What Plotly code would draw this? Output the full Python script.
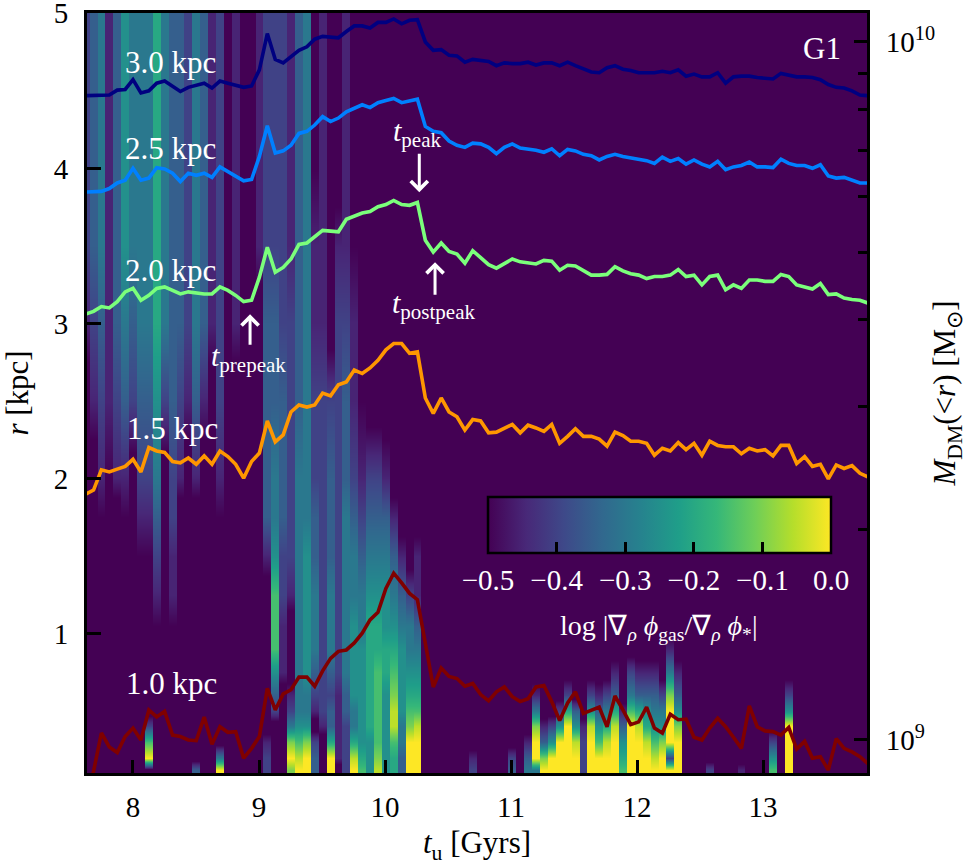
import numpy as np
import plotly.graph_objects as go

# Snapshot times [Gyr]
t_snap = [
    7.624, 7.687, 7.749, 7.812, 7.875, 7.938, 8.000, 8.063, 8.126, 8.188,
    8.251, 8.314, 8.376, 8.439, 8.502, 8.565, 8.627, 8.690, 8.753, 8.815,
    8.878, 8.941, 9.003, 9.066, 9.129, 9.192, 9.254, 9.317, 9.380, 9.442,
    9.505, 9.568, 9.630, 9.693, 9.756, 9.819, 9.881, 9.944, 10.007, 10.069,
    10.132, 10.195, 10.257, 10.320, 10.383, 10.446, 10.508, 10.571, 10.634, 10.696,
    10.759, 10.822, 10.884, 10.947, 11.010, 11.073, 11.135, 11.198, 11.261, 11.323,
    11.386, 11.449, 11.511, 11.574, 11.637, 11.700, 11.762, 11.825, 11.888, 11.950,
    12.013, 12.076, 12.138, 12.201, 12.264, 12.327, 12.389, 12.452, 12.515, 12.577,
    12.640, 12.703, 12.765, 12.828, 12.891, 12.954, 13.016, 13.079, 13.142, 13.204,
    13.267, 13.330, 13.392, 13.455, 13.518, 13.581, 13.643, 13.706, 13.769, 13.832,
]

# log10 of enclosed dark-matter mass M_DM(<r) [Msun] at each snapshot
logm_3p0 = [
    9.923, 9.923, 9.923, 9.924, 9.931, 9.932, 9.946, 9.927, 9.930, 9.941,
    9.944, 9.937, 9.929, 9.935, 9.938, 9.941, 9.934, 9.944, 9.941, 9.938,
    9.935, 9.937, 9.960, 10.012, 9.975, 9.970, 9.979, 9.988, 9.993, 10.004,
    10.008, 10.007, 10.006, 10.015, 10.023, 10.023, 10.020, 10.028, 10.028, 10.033,
    10.026, 10.031, 10.032, 10.000, 9.988, 9.989, 9.981, 9.980, 9.971, 9.975,
    9.973, 9.972, 9.966, 9.970, 9.969, 9.969, 9.971, 9.967, 9.970, 9.970,
    9.966, 9.971, 9.966, 9.961, 9.957, 9.956, 9.963, 9.966, 9.961, 9.959,
    9.956, 9.956, 9.956, 9.958, 9.956, 9.960, 9.951, 9.954, 9.950, 9.950,
    9.956, 9.941, 9.950, 9.951, 9.951, 9.949, 9.948, 9.947, 9.955, 9.953,
    9.950, 9.950, 9.949, 9.946, 9.939, 9.935, 9.934, 9.930, 9.924, 9.923,
]
logm_2p5 = [
    9.785, 9.785, 9.786, 9.790, 9.798, 9.802, 9.819, 9.802, 9.805, 9.820,
    9.818, 9.812, 9.800, 9.812, 9.809, 9.812, 9.806, 9.821, 9.814, 9.807,
    9.801, 9.803, 9.836, 9.880, 9.841, 9.844, 9.852, 9.869, 9.872, 9.881,
    9.893, 9.886, 9.891, 9.900, 9.905, 9.910, 9.906, 9.913, 9.916, 9.919,
    9.913, 9.916, 9.918, 9.879, 9.872, 9.870, 9.858, 9.852, 9.849, 9.855,
    9.854, 9.849, 9.840, 9.849, 9.854, 9.848, 9.847, 9.845, 9.842, 9.847,
    9.837, 9.846, 9.844, 9.839, 9.837, 9.831, 9.836, 9.839, 9.836, 9.834,
    9.832, 9.830, 9.826, 9.835, 9.829, 9.833, 9.825, 9.831, 9.825, 9.821,
    9.829, 9.817, 9.821, 9.823, 9.828, 9.821, 9.821, 9.820, 9.832, 9.826,
    9.823, 9.823, 9.819, 9.824, 9.808, 9.805, 9.806, 9.802, 9.798, 9.798,
]
logm_2p0 = [
    9.610, 9.614, 9.621, 9.619, 9.628, 9.642, 9.647, 9.630, 9.637, 9.647,
    9.649, 9.644, 9.639, 9.642, 9.640, 9.639, 9.639, 9.649, 9.644, 9.637,
    9.628, 9.630, 9.663, 9.706, 9.670, 9.677, 9.689, 9.710, 9.712, 9.721,
    9.730, 9.729, 9.728, 9.746, 9.751, 9.755, 9.757, 9.764, 9.767, 9.773,
    9.767, 9.766, 9.770, 9.716, 9.699, 9.712, 9.700, 9.696, 9.683, 9.701,
    9.691, 9.681, 9.676, 9.683, 9.689, 9.685, 9.684, 9.682, 9.687, 9.686,
    9.673, 9.680, 9.679, 9.673, 9.666, 9.666, 9.667, 9.678, 9.672, 9.668,
    9.666, 9.661, 9.664, 9.664, 9.666, 9.674, 9.664, 9.666, 9.652, 9.664,
    9.666, 9.645, 9.652, 9.647, 9.659, 9.659, 9.657, 9.657, 9.667, 9.664,
    9.652, 9.649, 9.646, 9.654, 9.638, 9.639, 9.633, 9.631, 9.630, 9.626,
]
logm_1p5 = [
    9.352, 9.358, 9.387, 9.384, 9.388, 9.392, 9.402, 9.384, 9.419, 9.414,
    9.412, 9.399, 9.397, 9.404, 9.395, 9.407, 9.395, 9.414, 9.406, 9.395,
    9.375, 9.399, 9.411, 9.457, 9.427, 9.437, 9.470, 9.480, 9.477, 9.480,
    9.497, 9.493, 9.509, 9.513, 9.530, 9.525, 9.533, 9.544, 9.559, 9.568,
    9.568, 9.554, 9.556, 9.490, 9.468, 9.490, 9.470, 9.463, 9.444, 9.459,
    9.457, 9.440, 9.441, 9.447, 9.452, 9.440, 9.451, 9.447, 9.442, 9.452,
    9.425, 9.435, 9.446, 9.435, 9.435, 9.431, 9.421, 9.441, 9.436, 9.428,
    9.428, 9.425, 9.408, 9.418, 9.414, 9.426, 9.416, 9.425, 9.408, 9.428,
    9.422, 9.420, 9.420, 9.410, 9.418, 9.414, 9.416, 9.407, 9.422, 9.422,
    9.396, 9.406, 9.392, 9.395, 9.374, 9.394, 9.389, 9.393, 9.382, 9.377,
]
logm_1p0 = [
    8.914, 8.955, 9.010, 8.990, 8.982, 9.005, 9.017, 9.000, 9.043, 9.033,
    9.041, 9.007, 9.005, 9.000, 8.999, 9.033, 8.994, 9.019, 9.011, 9.012,
    8.974, 8.988, 9.005, 9.074, 9.043, 9.066, 9.072, 9.090, 9.090, 9.077,
    9.099, 9.117, 9.127, 9.129, 9.139, 9.153, 9.172, 9.183, 9.217, 9.239,
    9.225, 9.210, 9.201, 9.139, 9.076, 9.103, 9.091, 9.088, 9.077, 9.081,
    9.065, 9.056, 9.069, 9.076, 9.062, 9.055, 9.059, 9.076, 9.078, 9.055,
    9.028, 9.053, 9.069, 9.038, 9.043, 9.047, 9.019, 9.063, 9.043, 9.022,
    9.026, 9.047, 9.017, 9.010, 9.037, 9.029, 9.030, 9.004, 9.000, 9.017,
    9.031, 9.019, 9.004, 8.988, 9.049, 9.019, 9.013, 9.012, 9.007, 9.018,
    8.987, 8.998, 8.974, 8.976, 8.957, 9.002, 8.988, 8.983, 8.976, 8.966,
]

shell_labels = ["3.0 kpc", "2.5 kpc", "2.0 kpc", "1.5 kpc", "1.0 kpc"]
shell_colors = ["#000080", "#0080ff", "#7bff7b", "#ff9700", "#800000"]

# Radial sample rows [kpc] of the gradient-ratio map
r_rows = [0.12, 0.2, 0.3, 0.4, 0.5, 0.6, 0.75, 0.9, 1.05, 1.25,
          1.5, 1.75, 2.0, 2.5, 3.0, 3.5, 4.0, 4.5, 5.0]

# log|grad phi_gas / grad phi_*| per snapshot, one string per snapshot,
# rows from r = 0.12 (left) to r = 5.0 (right); '|' separates r <= 2 from r >= 2.5.
# '.' below -0.5, digit d -> -0.5 + 0.05 d, 'Y' -> 0.0
ratio_cols = [
    ".............|.12222", ".............|123333", "...........01|234444",
    "............0|111111", "............1|233333", "...........01|345555",
    ".............|234444", "..........012|344444", ".Y72......012|344444",
    "........01234|566666", ".............|244444", ".......001122|333333",
    "............1|233333", ".............|122222", "3...........1|344444",
    ".............|133333", ".............|.11111", "Y4.........01|222222",
    ".............|..0000", ".............|.11111", ".............|......",
    ".............|......", ".............|..1111", "221.......133|332222",
    "....235777544|332222", "......1112233|322222", "8Y8421...1222|221111",
    "Y975444444444|333333", "YY85445555544|444444", "332.123444332|211000",
    "...1222222222|211111", "YY63323444333|2.....", ".111112222222|221...",
    "2222334444443|321111", "Y964455554432|110...", "7655555544321|0.....",
    "5556666665432|......", "9877777665432|......", "5555556655431|......",
    "667998765431.|......", "33445555431..|......", "YYY8765442...|......",
    "YYY97654311..|......", ".............|......", ".............|......",
    ".............|......", ".............|......", ".............|......",
    ".............|......", "21...........|......", ".............|......",
    ".............|......", ".............|......", ".............|......",
    "32...........|......", ".............|......", "431..........|......",
    "4YY841.......|......", "Y831.........|......", "YY52.........|......",
    "YYY52........|......", "YYYY62.......|......", "YY953........|......",
    "2221.........|......", "YYY952.......|......", "YY7531.......|......",
    "YY9642.......|......", "YYY9631......|......", "76531........|......",
    "YYYY742......|......", "YYY9631......|......", "YY96531......|......",
    "Y975431......|......", "YY8542.......|......", "Y2YYY841.....|......",
    "YYY8531......|......", ".............|......", ".............|......",
    ".............|......", "2............|......", ".............|......",
    ".............|......", ".............|......", "1............|......",
    ".............|......", ".............|......", ".............|......",
    "752..........|......", ".............|......", "YYYY52.......|......",
    ".............|......", ".............|......", ".............|......",
    ".............|......", ".............|......", ".............|......",
    ".............|......", ".............|......", ".............|......",
    ".............|......",
]


def level(ch):
    if ch == ".":
        return -0.55
    if ch == "Y":
        return 0.0
    return -0.5 + 0.05 * int(ch)


cols = [s.replace("|", "") for s in ratio_cols]
assert len(cols) == len(t_snap)
assert all(len(c) == len(r_rows) for c in cols)
z_cols = np.array([[level(ch) for ch in c] for c in cols])

# Each snapshot fills a flat band in time: place its profile at both band edges
half = 0.0305
x_edges = []
for t in t_snap:
    x_edges += [t - half, t + half]
z_map = np.repeat(z_cols, 2, axis=0).T

FONT = "Liberation Serif"
CBAR_TITLE = ("log |∇<sub><i>ρ</i></sub> <i>ϕ</i><sub>gas</sub>/"
              "∇<sub><i>ρ</i></sub> <i>ϕ</i><sub>*</sub>|")

fig = go.Figure()
fig.add_trace(go.Heatmap(
    x=x_edges, y=r_rows, z=z_map, zsmooth="best",
    colorscale="Viridis", zmin=-0.5, zmax=0.0, hoverinfo="skip",
    colorbar=dict(
        orientation="h", x=0.734, xanchor="center", y=0.3632, yanchor="top",
        len=0.44, lenmode="fraction", thickness=56, thicknessmode="pixels",
        outlinewidth=2.5, outlinecolor="black", bgcolor="rgba(0,0,0,0)",
        xpad=0, ypad=0,
        tickvals=[-0.5, -0.4, -0.3, -0.2, -0.1, 0.0], tickformat=".1f",
        ticks="inside", ticklen=12, tickwidth=2.5, tickcolor="black",
        tickfont=dict(family=FONT, size=29, color="white"),
    ),
))

for vals, color in zip([logm_3p0, logm_2p5, logm_2p0, logm_1p5, logm_1p0], shell_colors):
    fig.add_trace(go.Scatter(
        x=t_snap, y=10 ** np.array(vals), mode="lines", yaxis="y2",
        line=dict(color=color, width=3.6), showlegend=False, hoverinfo="skip"))

annotations = []
label_pos = [(8.298, 4.684), (8.298, 4.130), (8.298, 3.343), (8.310, 2.324), (8.305, 0.680)]
for text, (tx, ry) in zip(shell_labels, label_pos):
    annotations.append(dict(x=tx, y=ry, xref="x", yref="y", text=text, showarrow=False,
                            font=dict(family=FONT, size=31, color="white")))
annotations.append(dict(x=13.465, y=4.774, xref="x", yref="y", text="G1", showarrow=False,
                        font=dict(family=FONT, size=31, color="white")))

# Colour-bar label, set below the tick labels
annotations.append(dict(x=0.733, y=0.192, xref="paper", yref="paper", text=CBAR_TITLE,
                        xanchor="center", yanchor="middle", showarrow=False,
                        font=dict(family=FONT, size=28, color="white")))

# Event markers: arrows and their labels
arrow_style = dict(xref="x", yref="y", text="", showarrow=True, arrowhead=4,
                   arrowsize=1.1, arrowwidth=3, arrowcolor="white", ax=0)
annotations.append(dict(x=10.272, y=3.846, ay=-40, **arrow_style))
annotations.append(dict(x=10.397, y=3.395, ay=34, **arrow_style))
annotations.append(dict(x=8.929, y=3.059, ay=32, **arrow_style))
for text, tx, ry in [("<i>t</i><sub>peak</sub>", 10.254, 4.226),
                     ("<i>t</i><sub>postpeak</sub>", 10.381, 3.117),
                     ("<i>t</i><sub>prepeak</sub>", 8.913, 2.776)]:
    annotations.append(dict(x=tx, y=ry, xref="x", yref="y", text=text, showarrow=False,
                            font=dict(family=FONT, size=30, color="white")))

axis_common = dict(showgrid=False, zeroline=False, showline=True, linecolor="black",
                   linewidth=3, ticks="inside", tickcolor="black", tickwidth=2.5,
                   automargin=False, ticklabeloverflow="allow",
                   tickfont=dict(family=FONT, size=29, color="black"))

fig.update_layout(
    width=967, height=866,
    margin=dict(l=87, r=100, t=13, b=93),
    paper_bgcolor="white", plot_bgcolor="#440154",
    font=dict(family=FONT, color="black"),
    xaxis=dict(range=[7.635, 13.825], tickvals=[8, 9, 10, 11, 12, 13], ticklen=13,
               mirror=True, ticklabelstandoff=6,
               title=dict(text="<i>t</i><sub>u</sub> [Gyrs]", standoff=10,
                          font=dict(family=FONT, size=31)),
               **axis_common),
    yaxis=dict(range=[0.1, 5.002], tickvals=[1, 2, 3, 4, 5], ticklen=14, mirror=True,
               ticklabelstandoff=10,
               title=dict(text="<i>r</i> [kpc]", standoff=16, font=dict(family=FONT, size=31)),
               **axis_common),
    yaxis2=dict(overlaying="y", side="right", type="log", range=[8.9527, 10.0415],
                tickvals=[1e9, 1e10], ticktext=["10<sup>9</sup>", "10<sup>10</sup>"],
                ticklen=13, ticklabelstandoff=10,
                minor=dict(tickvals=[2e9, 3e9, 4e9, 5e9, 6e9, 7e9, 8e9, 9e9],
                           ticks="inside", ticklen=9, tickwidth=2.5, tickcolor="black"),
                title=dict(text="<i>M</i><sub>DM</sub>(&lt;<i>r</i>) [M<sub>⊙</sub>]",
                           standoff=8, font=dict(family=FONT, size=31)),
                **axis_common),
    annotations=annotations,
)

fig.write_html("out.html")
